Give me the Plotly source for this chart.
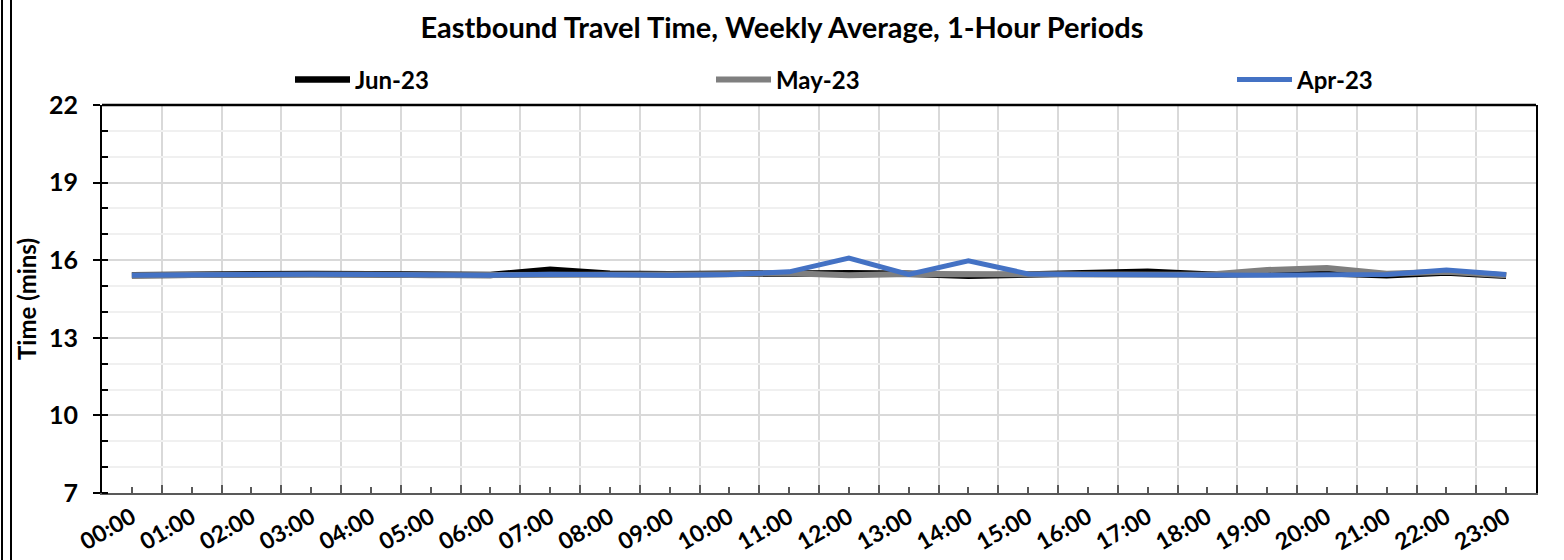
import plotly.graph_objects as go

# Hourly periods and weekly-average travel times (minutes)
hours = [f"{h:02d}:00" for h in range(24)]
jun_23 = [15.42, 15.45, 15.46, 15.47, 15.46, 15.43, 15.43, 15.63, 15.48, 15.46, 15.48, 15.52,
          15.50, 15.48, 15.40, 15.45, 15.52, 15.55, 15.45, 15.45, 15.50, 15.42, 15.52, 15.40]
may_23 = [15.42, 15.44, 15.45, 15.46, 15.45, 15.42, 15.42, 15.47, 15.46, 15.44, 15.46, 15.50,
          15.42, 15.47, 15.46, 15.46, 15.44, 15.45, 15.44, 15.62, 15.70, 15.48, 15.55, 15.42]
apr_23 = [15.42, 15.44, 15.45, 15.46, 15.45, 15.42, 15.42, 15.46, 15.44, 15.42, 15.45, 15.55,
          16.08, 15.45, 15.98, 15.47, 15.45, 15.44, 15.40, 15.42, 15.44, 15.45, 15.62, 15.45]
y_ticks = [7, 10, 13, 16, 19, 22]

W, H = 1564, 560
ML, MR, MT, MB = 102, 28, 105, 67
PW = W - ML - MR
PH = H - MT - MB
FONT = "Lato"

def px_x(px):
    return (px - ML) / PW

def px_y(py):
    return 1 - (py - MT) / PH

xi = list(range(len(hours)))

series = [
    ("Jun-23", jun_23, "#000000", 6.5, "legend"),
    ("May-23", may_23, "#7f7f7f", 6, "legend2"),
    ("Apr-23", apr_23, "#4472c4", 5, "legend3"),
]

fig = go.Figure()
for name, vals, color, width, leg in series:
    fig.add_trace(go.Scatter(
        x=xi, y=vals, name=name, mode="lines",
        line=dict(color=color, width=width),
        legend=leg, showlegend=True,
    ))

legend_common = dict(
    orientation="h", xanchor="left", yanchor="middle",
    font=dict(family=FONT, size=24, color="#000000", weight="bold"),
    bgcolor="rgba(0,0,0,0)", itemwidth=55, visible=True,
)

fig.update_layout(
    width=W, height=H,
    margin=dict(l=ML, r=MR, t=MT, b=MB, autoexpand=False),
    paper_bgcolor="white", plot_bgcolor="white",
    showlegend=True,
    font=dict(family=FONT, color="#000000"),
    title=dict(
        text="Eastbound Travel Time, Weekly Average, 1-Hour Periods",
        x=0.5, xref="container", xanchor="center",
        y=1 - 28 / H, yanchor="middle",
        font=dict(family=FONT, size=29, color="#000000", weight="bold"),
    ),
    legend=dict(x=px_x(290), y=px_y(80), **legend_common),
    legend2=dict(x=px_x(711), y=px_y(80), **legend_common),
    legend3=dict(x=px_x(1232), y=px_y(80), **legend_common),
    xaxis=dict(
        range=[-0.5, len(hours) - 0.5], automargin=False,
        tickmode="array", tickvals=xi, ticktext=hours,
        tickangle=-30, tickfont=dict(family=FONT, size=23, color="#000000", weight="bold"),
        ticks="inside", ticklen=6, tickwidth=1.5, tickcolor="#595959",
        showgrid=False, zeroline=False,
        showline=True, linecolor="#595959", linewidth=2,
        minor=dict(tickmode="array", tickvals=[i + 0.5 for i in xi[:-1]],
                   ticks="inside", ticklen=8, tickcolor="#595959", tickwidth=1.5,
                   showgrid=True, gridcolor="#d9d9d9", gridwidth=1.5),
    ),
    yaxis=dict(
        range=[7, 22], automargin=False,
        tickmode="array", tickvals=y_ticks, ticktext=[str(v) for v in y_ticks],
        tickfont=dict(family=FONT, size=25, color="#000000", weight="bold"),
        ticks="outside", ticklen=7, tickwidth=2, tickcolor="#000000",
        ticklabelstandoff=10,
        showgrid=True, gridcolor="#d9d9d9", gridwidth=1.5, zeroline=False,
        showline=True, linecolor="#000000", linewidth=2, mirror=True,
        minor=dict(dtick=1, tick0=7, ticks="inside", ticklen=6, tickwidth=2,
                   tickcolor="#000000", showgrid=True, gridcolor="#f0f0f0", gridwidth=1.5),
        title=dict(text="Time (mins)", standoff=6,
                   font=dict(family=FONT, size=24, color="#000000", weight="bold")),
    ),
    shapes=[
        # top edge of the plot frame
        dict(type="line", xref="paper", yref="paper", x0=0, x1=1, y0=1, y1=1,
             line=dict(color="#000000", width=2.5)),
        # double rule on the chart's left edge
        dict(type="line", xref="paper", yref="paper", x0=px_x(2), x1=px_x(2),
             y0=px_y(0), y1=px_y(H), line=dict(color="#000000", width=2)),
        dict(type="line", xref="paper", yref="paper", x0=px_x(11), x1=px_x(11),
             y0=px_y(0), y1=px_y(H), line=dict(color="#000000", width=2)),
    ],
)

fig.write_html("out.html")
